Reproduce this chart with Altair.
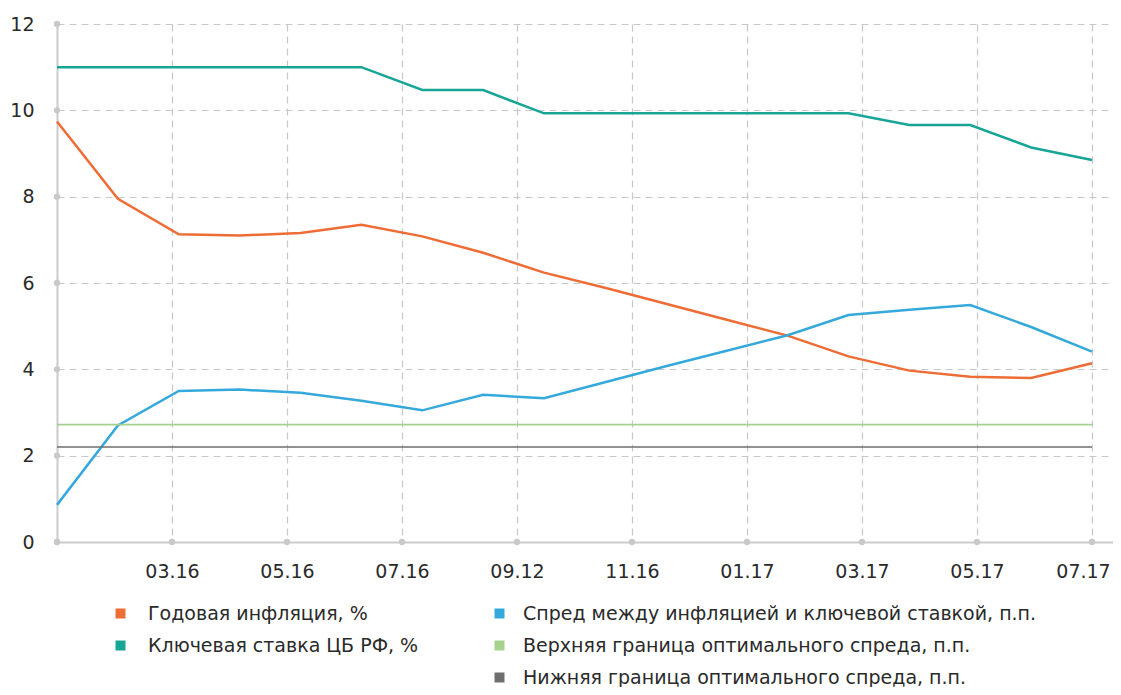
import json
import altair as alt
import pandas as pd

# ---- data ----
idx = list(range(18))
inflation = [9.74, 7.95, 7.13, 7.10, 7.16, 7.35, 7.08, 6.70, 6.24, 5.89, 5.52, 5.15, 4.78, 4.30, 3.97, 3.83, 3.80, 4.14]
key_rate = [11.0, 11.0, 11.0, 11.0, 11.0, 11.0, 10.47, 10.47, 9.93, 9.93, 9.93, 9.93, 9.93, 9.93, 9.66, 9.66, 9.14, 8.85]
spread = [0.86, 2.70, 3.50, 3.53, 3.46, 3.27, 3.05, 3.41, 3.33, 3.70, 4.07, 4.43, 4.79, 5.26, 5.38, 5.49, 4.98, 4.41]
upper_bound = [2.72, 2.72, 2.72, 2.72, 2.72, 2.72, 2.72, 2.72, 2.72, 2.72, 2.72, 2.72, 2.72, 2.72, 2.72, 2.72, 2.72, 2.72]
lower_bound = [2.20, 2.20, 2.20, 2.20, 2.20, 2.20, 2.20, 2.20, 2.20, 2.20, 2.20, 2.20, 2.20, 2.20, 2.20, 2.20, 2.20, 2.20]

x_tick_labels = ["", "03.16", "05.16", "07.16", "09.12", "11.16", "01.17", "03.17", "05.17", "07.17"]
y_ticks = [0, 2, 4, 6, 8, 10, 12]

names_a = ["Годовая инфляция, %", "Ключевая ставка ЦБ РФ, %"]
names_b = ["Спред между инфляцией и ключевой ставкой, п.п.",
           "Верхняя граница оптимального спреда, п.п.",
           "Нижняя граница оптимального спреда, п.п."]
colors_a = ["#EE6C35", "#17A595"]
colors_b = ["#35A9DB", "#A5D38F", "#6E6E6E"]

FONT = "DejaVu Sans"

def frame(values, name):
    return pd.DataFrame({"i": idx, "v": values, "s": name})

df_a = pd.concat([frame(inflation, names_a[0]), frame(key_rate, names_a[1])])
df_spread = frame(spread, names_b[0])
df_bounds = pd.concat([frame(upper_bound, names_b[1]), frame(lower_bound, names_b[2])])

n_int = len(idx) - 1
tick_vals = [j * n_int / (len(x_tick_labels) - 1) for j in range(len(x_tick_labels))]
label_expr = json.dumps(x_tick_labels) + "[round(datum.value*%d/%d)]" % (len(x_tick_labels) - 1, n_int)

x_enc = alt.X("i:Q", scale=alt.Scale(domain=[0, 17.345], nice=False, zero=False),
              axis=alt.Axis(values=tick_vals, labelExpr=label_expr, title=None,
                            labelOffset={"condition": {"test": "datum.value > 16", "value": -9}, "value": 0}))
y_enc = alt.Y("v:Q", scale=alt.Scale(domain=[0, 12], nice=False),
              axis=alt.Axis(values=y_ticks, title=None))

def legend(x, y, offset):
    return alt.Legend(title=None, orient="none", legendX=x, legendY=y,
                      symbolType="square", symbolSize=4, symbolStrokeWidth=8,
                      labelFont=FONT, labelFontSize=19, labelColor="#2a2a2a",
                      labelOffset=offset, rowPadding=-3, padding=0, labelLimit=600)

layer_a = alt.Chart(df_a).mark_line().encode(
    x=x_enc, y=y_enc,
    color=alt.Color("s:N", scale=alt.Scale(domain=names_a, range=colors_a), legend=legend(54, 580, 18),
                    sort=names_a),
    strokeWidth=alt.value(2.5),
)

layer_spread = alt.Chart(df_spread).mark_line().encode(
    x=x_enc, y=y_enc,
    color=alt.Color("s:N", scale=alt.Scale(domain=names_b, range=colors_b), legend=legend(433, 580, 14),
                    sort=names_b),
    strokeWidth=alt.value(2.5),
)
layer_bounds = alt.Chart(df_bounds).mark_line().encode(
    x=x_enc, y=y_enc,
    color=alt.Color("s:N", scale=alt.Scale(domain=names_b, range=colors_b), legend=legend(433, 580, 14),
                    sort=names_b),
    strokeWidth=alt.value(1.6),
)
layer_b = alt.layer(layer_spread, layer_bounds)

dots_df = pd.DataFrame(
    {"i": [0] * len(y_ticks) + tick_vals, "v": y_ticks + [0] * len(tick_vals)}
)
dots = alt.Chart(dots_df).mark_circle(color="#c9c9c9", opacity=1, size=40).encode(x=x_enc, y=y_enc)

chart = alt.layer(layer_a, layer_b, dots).resolve_scale(color="independent").properties(
    width=1056, height=518,
    padding={"left": 49, "top": 16, "right": 0, "bottom": 145},
    autosize=alt.AutoSizeParams(type="none"),
    background="white",
).configure_view(stroke=None).configure_axis(
    domainColor="#cccccc", domainWidth=2, ticks=False,
    gridColor="#c8c8c8", gridDash=[7, 5], gridWidth=1.2,
    labelFont=FONT, labelFontSize=19, labelColor="#2a2a2a",
).configure_axisX(labelPadding=20).configure_axisY(labelPadding=23)

chart.save("out.html", embed_options={"renderer": "svg", "actions": False})
